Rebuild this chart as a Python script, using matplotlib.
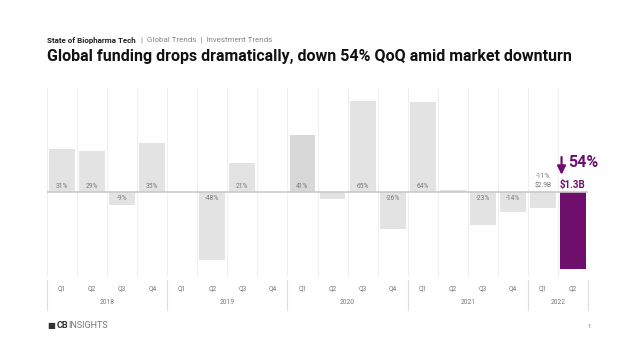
import matplotlib.pyplot as plt

plt.rcParams['font.family'] = ['Roboto', 'DejaVu Sans']

# quarterly QoQ funding change (%)
quarters = ["Q1", "Q2", "Q3", "Q4"] * 4 + ["Q1", "Q2"]
years = ["2018", "2019", "2020", "2021", "2022"]
qoq = [31, 29, -9, 35, 0, -48, 21, 0, 41, -5, 65, -26, 64, 2, -23, -14, -11, -54]
labels = ["31%", "29%", "-9%", "35%", "", "-48%", "21%", "", "41%", "", "65%", "-26%",
          "64%", "", "-23%", "-14%", "-11%", "$1.3B"]
q1_2022_total = "$2.9B"
drop = "54%"

grey = "#e3e3e3"
purple = "#6e0f6e"
colors = [grey] * len(qoq)
colors[8] = "#d8d8d8"
colors[-1] = purple

fig = plt.figure(figsize=(6.38, 3.59), dpi=100)
ax = fig.add_axes([47 / 638, 1 - 277 / 359, 541 / 638, 189 / 359])

x = list(range(len(qoq)))
ax.bar(x, qoq, width=0.86, color=colors, zorder=2)
ax.set_xlim(-0.5, len(qoq) - 0.5)
ax.set_ylim(-60, 74)
ax.axhline(0, color="#c9c9c9", lw=1.2, zorder=3)
for i in range(len(qoq) + 1):
    ax.axvline(i - 0.5, color="#efefef", lw=0.8, zorder=1)
for s in ax.spines.values():
    s.set_visible(False)
ax.set_xticks([])
ax.set_yticks([])

# value labels
for i, (v, t) in enumerate(zip(qoq, labels)):
    if not t or i >= 16:
        continue
    if v >= 0:
        ax.text(i, 1.5, t, ha="center", va="bottom", fontsize=4.8, color="#777777", zorder=4)
    else:
        ax.text(i, -1.8, t, ha="center", va="top", fontsize=4.8, color="#777777", zorder=4)
ax.text(16, 2.0, q1_2022_total, ha="center", va="bottom", fontsize=4.8, color="#777777")
ax.text(16, 9.0, labels[16], ha="center", va="bottom", fontsize=4.8, color="#777777")
ax.text(17, 1.5, labels[17], ha="center", va="bottom", fontsize=7, color=purple, fontweight="bold")
ax.annotate("", xy=(16.62, 10.5), xytext=(16.62, 27),
            arrowprops=dict(arrowstyle="-|>,head_width=0.25,head_length=0.5", color=purple, lw=1.6))
ax.text(16.85, 21, drop, ha="left", va="center", fontsize=11.5, color=purple, fontweight="bold")

# x axis labels drawn in figure coords
W, H = 638, 359
x0, cw = 47, 541 / len(qoq)
for i, q in enumerate(quarters):
    fig.text((x0 + cw * (i + 0.5)) / W, 1 - 289 / H, q, ha="center", va="center",
             fontsize=4.8, color="#777777")
starts = [0, 4, 8, 12, 16, 18]
for k, yr in enumerate(years):
    a, b = starts[k], starts[k + 1]
    fig.text((x0 + cw * (a + b) / 2) / W, 1 - 302 / H, yr, ha="center", va="center",
             fontsize=4.8, color="#777777")
for s in starts:
    xx = (x0 + cw * s) / W
    fig.add_artist(plt.Line2D([xx, xx], [1 - 280 / H, 1 - 310 / H], color="#dddddd", lw=0.8))

# header
fig.text(47 / W, 1 - 40 / H, "State of Biopharma Tech", fontsize=5.8, fontweight="bold",
         color="#222222", va="center")
fig.text(141 / W, 1 - 40 / H, "|  Global Trends  |  Investment Trends", fontsize=5.8,
         color="#888888", va="center")
fig.text(47 / W, 1 - 57 / H, "Global funding drops dramatically, down 54% QoQ amid market downturn",
         fontsize=11.5, fontweight="bold", color="#111111", va="center")

# footer
fig.text(47 / W, 1 - 326 / H, "\u25a0", fontsize=6, color="#333333", va="center")
fig.text(57 / W, 1 - 326 / H, "CB", fontsize=6.5, fontweight="bold", color="#333333", va="center")
fig.text(68 / W, 1 - 326 / H, "INSIGHTS", fontsize=6.5, color="#777777", va="center")
fig.text(588 / W, 1 - 326 / H, "1", fontsize=4.5, color="#777777", va="center")

fig.savefig("out.png", dpi=100)
